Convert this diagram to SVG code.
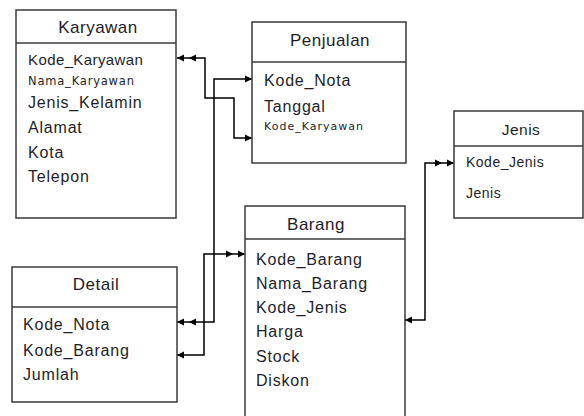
<svg xmlns="http://www.w3.org/2000/svg" width="584" height="416" viewBox="0 0 584 416">
<style>
.box{fill:#fff;stroke:#3a3a3a;stroke-width:1.5}
.div{stroke:#3a3a3a;stroke-width:1.5}
text{font-family:"Liberation Sans",Arial,sans-serif;fill:#1e1e2a}
.t{font-size:17px;letter-spacing:0.5px;text-anchor:middle}
.f{font-size:16px;letter-spacing:0.8px}
.m{font-size:15px;letter-spacing:0.4px}
.j{font-size:14px;letter-spacing:0.5px}
.s{font-family:"DejaVu Sans",Verdana,sans-serif;font-size:11.5px;letter-spacing:0.8px}
.s2{font-family:"DejaVu Sans",Verdana,sans-serif;font-size:11px;letter-spacing:1px}
.c{fill:none;stroke:#000;stroke-width:1.5}
</style>
<defs>
<marker id="a1" markerUnits="userSpaceOnUse" viewBox="-1 -4 9 8" refX="7" refY="0" markerWidth="9" markerHeight="8" orient="auto-start-reverse">
<path d="M0,-3.5 L7,0 L0,3.5 z" fill="#000"/>
</marker>
<marker id="a2" markerUnits="userSpaceOnUse" viewBox="-13 -4 21 8" refX="7" refY="0" markerWidth="21" markerHeight="8" orient="auto-start-reverse">
<path d="M-12,-3.5 L-5,0 L-12,3.5 z M0,-3.5 L7,0 L0,3.5 z" fill="#000"/>
</marker>
</defs>

<g id="connectors">
<path class="c" d="M177,58 H205 V98 H234 V138 H252" marker-start="url(#a2)" marker-end="url(#a1)"/>
<path class="c" d="M177,322 H214 V79 H252" marker-start="url(#a2)" marker-end="url(#a1)"/>
<path class="c" d="M177,355 H204 V254 H245" marker-start="url(#a1)" marker-end="url(#a2)"/>
<path class="c" d="M405,320 H425 V163 H454" marker-start="url(#a1)" marker-end="url(#a2)"/>
</g>

<g id="karyawan">
<rect class="box" x="16" y="10" width="160" height="208"/>
<line class="div" x1="16" y1="43" x2="176" y2="43"/>
<text class="t" x="98" y="33">Karyawan</text>
<text class="m" x="28" y="65">Kode_Karyawan</text>
<text class="s" x="28" y="85">Nama_Karyawan</text>
<text class="f" x="28" y="108">Jenis_Kelamin</text>
<text class="f" x="28" y="133">Alamat</text>
<text class="f" x="28" y="158">Kota</text>
<text class="f" x="28" y="182">Telepon</text>
</g>

<g id="penjualan">
<rect class="box" x="252" y="22" width="154" height="141"/>
<line class="div" x1="252" y1="62" x2="406" y2="62"/>
<text class="t" x="330" y="46">Penjualan</text>
<text class="f" x="264" y="86">Kode_Nota</text>
<text class="f" x="264" y="112">Tanggal</text>
<text class="s2" x="264" y="130">Kode_Karyawan</text>
</g>

<g id="jenis">
<rect class="box" x="454" y="111" width="129" height="107"/>
<line class="div" x1="454" y1="146" x2="583" y2="146"/>
<text class="t" x="521" y="135" style="font-size:15.5px">Jenis</text>
<text class="j" x="466" y="167">Kode_Jenis</text>
<text class="j" x="466" y="198">Jenis</text>
</g>

<g id="barang">
<rect class="box" x="245" y="206" width="160" height="220"/>
<line class="div" x1="245" y1="239" x2="405" y2="239"/>
<text class="t" x="316" y="230">Barang</text>
<text class="f" x="256" y="265">Kode_Barang</text>
<text class="f" x="256" y="289">Nama_Barang</text>
<text class="f" x="256" y="313">Kode_Jenis</text>
<text class="f" x="256" y="337">Harga</text>
<text class="f" x="256" y="362">Stock</text>
<text class="f" x="256" y="386">Diskon</text>
</g>

<g id="detail">
<rect class="box" x="12" y="267" width="165" height="135"/>
<line class="div" x1="12" y1="307" x2="177" y2="307"/>
<text class="t" x="96" y="290">Detail</text>
<text class="f" x="23" y="330">Kode_Nota</text>
<text class="f" x="23" y="356">Kode_Barang</text>
<text class="f" x="23" y="380">Jumlah</text>
</g>
</svg>
